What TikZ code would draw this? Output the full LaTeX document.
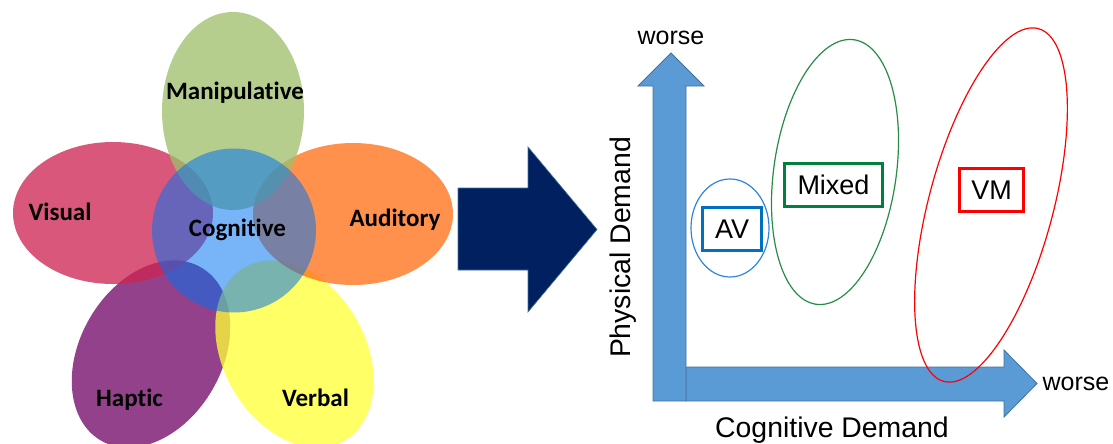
\documentclass[tikz,border=0pt]{standalone}
\usepackage{fontspec}
\setmainfont{Liberation Sans}
\newfontfamily\calib[Ligatures=NoCommon]{Carlito}
\definecolor{manip}{RGB}{159,191,107}
\definecolor{visual}{RGB}{206,37,83}
\definecolor{audit}{RGB}{255,112,24}
\definecolor{haptic}{RGB}{114,8,103}
\definecolor{verbal}{RGB}{255,255,56}
\definecolor{cogn}{RGB}{0,113,241}
\definecolor{navy}{RGB}{0,32,96}
\definecolor{axisfill}{RGB}{91,155,213}
\definecolor{axisline}{RGB}{65,113,156}
\definecolor{avblue}{RGB}{0,112,192}
\definecolor{avell}{RGB}{46,134,222}
\definecolor{mixgreen}{RGB}{0,128,60}
\definecolor{mixell}{RGB}{40,140,70}
\definecolor{vmred}{RGB}{255,0,0}
\tikzset{
  petal/.style={fill=#1, fill opacity=0.77, draw=none},
  flabel/.style={font=\calib\bfseries\fontsize{25}{30}\selectfont, inner sep=0, anchor=base, text=black},
  alabel/.style={font=\fontsize{28.4}{32}\selectfont, inner sep=0, anchor=base, text=black},
  wlabel/.style={font=\fontsize{25}{30}\selectfont, inner sep=0, anchor=base, text=black},
  catbox/.style={draw=#1, line width=3pt, fill=white, inner sep=0, font=\fontsize{27}{30}\selectfont, text=black},
  zone/.style={draw=#1, line width=1.2pt},
  axisarrow/.style={fill=axisfill, draw=axisline, line width=0.8pt, line join=miter}
}
\begin{document}
\begin{tikzpicture}[x=1pt,y=-1pt]
\useasboundingbox (0,0) rectangle (1113,444);
% ---------- flower ----------
\fill[petal=haptic, rotate around={-30:(151,354)}] (151,354) ellipse [x radius=71, y radius=100];
\fill[petal=verbal, rotate around={30:(294.5,354)}] (294.5,354) ellipse [x radius=71, y radius=100];
\fill[petal=visual] (113,213) ellipse [x radius=100, y radius=71];
\fill[petal=audit] (353,214) ellipse [x radius=100, y radius=71];
\fill[petal=manip] (233,111) ellipse [x radius=71, y radius=99];
\fill[fill=cogn, fill opacity=0.53] (234,230.5) circle [radius=82];
\node[flabel] (manl) at (235,99) {Manipulative};
\node[flabel] (visl) at (60,220.5) {Visual};
\node[flabel] (cogl) at (237.5,236.5) {Cognitive};
\node[flabel] (audl) at (395,226.5) {Auditory};
\node[flabel] (hapl) at (129.5,406) {Haptic};
\node[flabel] (verl) at (315.5,406) {Verbal};
% ---------- big arrow ----------
\filldraw[fill=navy, draw=axisline, line width=0.6pt, line join=miter]
  (458,188) -- (528,188) -- (528,147) -- (597,229.5) -- (528,312) -- (528,270) -- (458,270) -- cycle;
% ---------- axes ----------
\filldraw[axisarrow] (686,367) -- (1004,367) -- (1004,350) -- (1037,383.5) -- (1004,417) -- (1004,401) -- (686,401) -- cycle;
\filldraw[axisarrow] (653,401) -- (653,86) -- (638,86) -- (671,53) -- (704,86) -- (686,86) -- (686,401) -- cycle;
\node[wlabel] (wtop) at (671,45) {worse};
\node[wlabel] (wright) at (1076,390.5) {worse};
\node[alabel] (cogd) at (832,437) {Cognitive Demand};
\node[alabel, rotate=90] (phyd) at (630,247.5) {Physical Demand};
% ---------- zones ----------
\draw[zone=avell] (730,228) ellipse [x radius=39, y radius=49];
\draw[zone=mixell, rotate around={-8.2:(835,172)}] (835,172) ellipse [x radius=61.2, y radius=133.6];
\draw[zone=vmred, rotate around={-15:(991,205)}] (991,205) ellipse [x radius=62.1, y radius=182.6];
\node[catbox=avblue, minimum width=59pt, minimum height=43pt] (av) at (732,229) {AV};
\node[catbox=mixgreen, minimum width=98pt, minimum height=43pt] (mixed) at (833.5,185) {Mixed};
\node[catbox=vmred, minimum width=64pt, minimum height=43pt] (vm) at (991.5,190) {VM};
\end{tikzpicture}
\end{document}
